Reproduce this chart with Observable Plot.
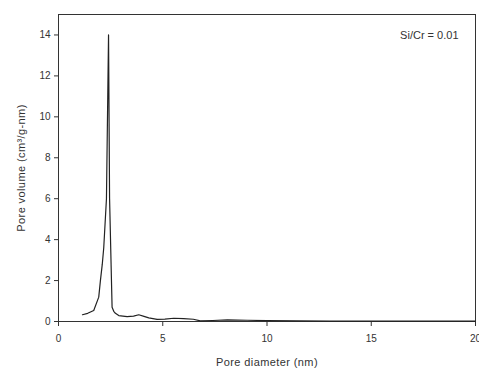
<!DOCTYPE html>
<html>
<head>
<meta charset="utf-8">
<script src="https://cdn.jsdelivr.net/npm/d3@7"></script>
<script src="https://cdn.jsdelivr.net/npm/@observablehq/plot@0.6"></script>
<style>
  html, body { margin: 0; padding: 0; background: #fff; }
  #chart svg { display: block; }
  #chart svg g[aria-label="x-axis label"] text,
  #chart svg g[aria-label="y-axis label"] text { font-size: 11px; letter-spacing: 0.4px; }
</style>
</head>
<body>
<div id="chart"></div>
<script>
const diameter = [1.15, 1.4, 1.69, 1.93, 2.01, 2.1, 2.17, 2.3, 2.4, 2.45, 2.54, 2.57, 2.65, 2.73, 2.89, 3.29, 3.6, 3.85, 4.1, 4.33, 4.73, 5.1, 5.53, 6.0, 6.47, 6.8, 7.4, 8.1, 9.05, 10.0, 11.5, 13.0, 15.0, 17.0, 19.0, 20.0];
const volume   = [0.33, 0.4, 0.54, 1.19, 2.0, 2.8, 3.6, 6.0, 14.0, 6.0, 2.0, 0.7, 0.5, 0.4, 0.29, 0.24, 0.26, 0.33, 0.25, 0.18, 0.1, 0.12, 0.16, 0.14, 0.11, 0.03, 0.05, 0.08, 0.06, 0.04, 0.03, 0.02, 0.02, 0.02, 0.02, 0.02];
const xTicks = [0, 5, 10, 15, 20];
const yTicks = [0, 2, 4, 6, 8, 10, 12, 14];
const annotation = ["Si/Cr = 0.01"];

const data = diameter.map((d, i) => ({d, v: volume[i]}));

const chart = Plot.plot({
  width: 479,
  height: 370,
  marginLeft: 58,
  marginRight: 4,
  marginTop: 14,
  marginBottom: 49,
  style: {fontFamily: "Liberation Sans, Arial, sans-serif", fontSize: "10px", color: "#333", background: "#fff"},
  x: {domain: [0, 20], ticks: xTicks, tickSize: 5, tickPadding: 8, label: "Pore diameter (nm)", labelAnchor: "center", labelOffset: 44, labelArrow: "none"},
  y: {domain: [0, 15], ticks: yTicks, tickSize: 4, tickPadding: 4, label: "Pore volume (cm³/g-nm)", labelAnchor: "center", labelOffset: 41, labelArrow: "none"},
  marks: [
    Plot.frame({stroke: "#333", strokeWidth: 1}),
    Plot.line(data, {x: "d", y: "v", stroke: "#222", strokeWidth: 1.2}),
    Plot.text(annotation, {text: d => d, frameAnchor: "top-right", dx: -17, dy: 17, fontSize: 11, fill: "#333", style: "letter-spacing:0.6px"})
  ]
});
document.getElementById("chart").appendChild(chart);
</script>
</body>
</html>
